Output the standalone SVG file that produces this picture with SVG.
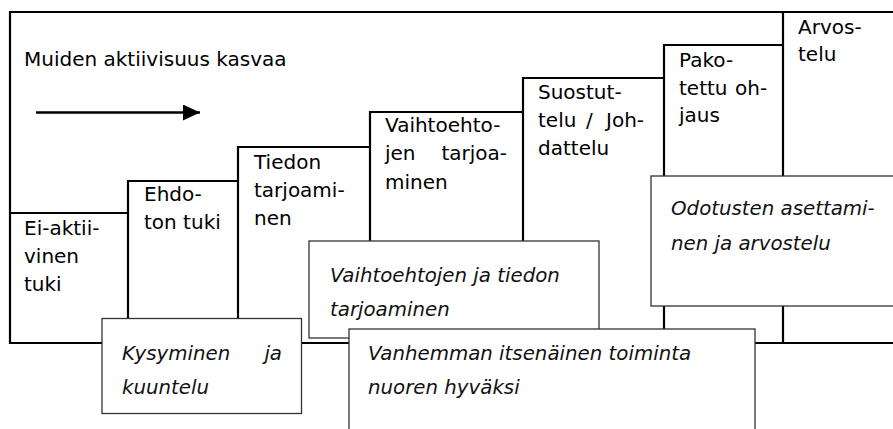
<svg xmlns="http://www.w3.org/2000/svg" width="893" height="429" viewBox="0 0 893 429">
  <defs>
    <style>
      .txt { font-family: "DejaVu Sans", Verdana, sans-serif; font-size: 20px; fill: #000; }
      .it { font-family: "DejaVu Sans", Verdana, sans-serif; font-size: 19.8px; font-style: italic; fill: #111; }
      .step { fill: none; stroke: #000; stroke-width: 2.2; }
      .card { fill: #fff; stroke: #333; stroke-width: 1.3; }
      .end { text-anchor: end; }
    </style>
    <marker id="head" viewBox="0 0 17 16" refX="17" refY="8" markerWidth="17" markerHeight="16" markerUnits="userSpaceOnUse" orient="auto">
      <path d="M0,0 L17,8 L0,16 Z" fill="#000"/>
    </marker>
  </defs>
  <rect width="893" height="429" fill="#fff"/>

  <!-- outer frame: top, left and baseline -->
  <g id="frame">
    <path class="step" d="M893,12 H10 V343 H893"/>
  </g>

  <!-- staircase of support levels -->
  <g id="step-ei-aktiivinen">
    <path class="step" d="M10,213 H128"/>
    <text class="txt"><tspan x="24" y="235">Ei-aktii-</tspan><tspan x="24" y="263">vinen</tspan><tspan x="24" y="291">tuki</tspan></text>
  </g>
  <g id="step-ehdoton">
    <path class="step" d="M128,343 V181 H238"/>
    <text class="txt"><tspan x="144" y="201">Ehdo-</tspan><tspan x="144" y="229">ton tuki</tspan></text>
  </g>
  <g id="step-tiedon">
    <path class="step" d="M238,343 V147 H370"/>
    <text class="txt"><tspan x="254" y="168.5">Tiedon</tspan><tspan x="254" y="196.5">tarjoami-</tspan><tspan x="254" y="224.5">nen</tspan></text>
  </g>
  <g id="step-vaihtoehtojen">
    <path class="step" d="M370,343 V112 H523"/>
    <text class="txt"><tspan x="385" y="131.5">Vaihtoehto-</tspan><tspan x="385" y="160">jen</tspan></text>
    <text class="txt end" x="507" y="160">tarjoa-</text>
    <text class="txt" x="385" y="189">minen</text>
  </g>
  <g id="step-suostuttelu">
    <path class="step" d="M523,343 V78 H664"/>
    <text class="txt"><tspan x="538" y="99">Suostut-</tspan><tspan x="538" y="127">telu</tspan><tspan x="586" y="127">/</tspan><tspan x="606" y="127">Joh-</tspan><tspan x="538" y="155">dattelu</tspan></text>
  </g>
  <g id="step-pakotettu">
    <path class="step" d="M664,343 V45 H783"/>
    <text class="txt"><tspan x="679" y="66.5">Pako-</tspan><tspan x="679" y="94.5">tettu</tspan><tspan x="735" y="94.5">oh-</tspan><tspan x="679" y="122">jaus</tspan></text>
  </g>
  <g id="step-arvostelu">
    <path class="step" d="M783,12 V343"/>
    <text class="txt"><tspan x="798" y="33.5">Arvos-</tspan><tspan x="798" y="61">telu</tspan></text>
  </g>

  <g id="title">
    <text class="txt" x="24" y="66">Muiden aktiivisuus kasvaa</text>
  </g>

  <!-- direction arrow -->
  <g id="connectors">
    <line x1="36" y1="112.5" x2="200" y2="112.5" stroke="#000" stroke-width="2.4" marker-end="url(#head)"/>
  </g>

  <!-- overlaid description cards -->
  <g id="card-kysyminen">
    <rect class="card" x="102" y="318.5" width="199.5" height="95"/>
    <text class="it"><tspan x="122" y="359.5">Kysyminen</tspan></text>
    <text class="it end" x="282" y="359.5">ja</text>
    <text class="it" x="122" y="393.5">kuuntelu</text>
  </g>
  <g id="card-vaihtoehtojen">
    <rect class="card" x="309" y="241" width="290" height="97"/>
    <text class="it"><tspan x="330" y="282">Vaihtoehtojen ja tiedon</tspan><tspan x="330" y="315.5">tarjoaminen</tspan></text>
  </g>
  <g id="card-vanhemman">
    <rect class="card" x="349" y="329" width="406" height="120"/>
    <text class="it"><tspan x="368" y="360">Vanhemman itsenäinen toiminta</tspan><tspan x="368" y="393.5">nuoren hyväksi</tspan></text>
  </g>
  <g id="card-odotusten">
    <rect class="card" x="651" y="176" width="260" height="130"/>
    <text class="it"><tspan x="671" y="215">Odotusten asettami-</tspan><tspan x="671" y="249.5">nen ja arvostelu</tspan></text>
  </g>
</svg>
